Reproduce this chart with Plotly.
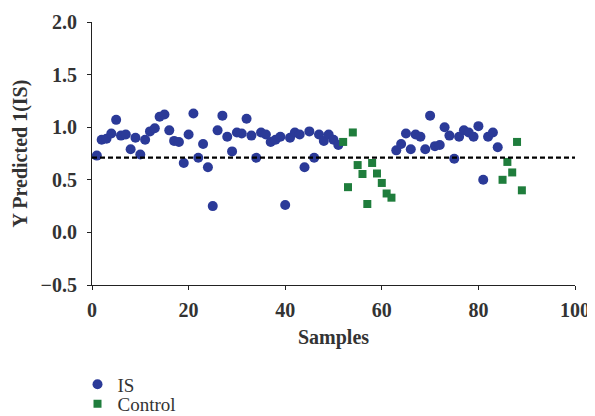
import plotly.graph_objects as go

is_samples = list(range(1, 52)) + list(range(63, 85))
is_values = [0.73, 0.88, 0.89, 0.94, 1.07, 0.92, 0.93, 0.79, 0.90, 0.74,
             0.88, 0.96, 0.99, 1.10, 1.12, 0.97, 0.87, 0.86, 0.66, 0.93,
             1.13, 0.71, 0.84, 0.62, 0.25, 0.97, 1.11, 0.91, 0.77, 0.95,
             0.94, 1.08, 0.92, 0.71, 0.95, 0.93, 0.86, 0.88, 0.91, 0.26,
             0.90, 0.95, 0.93, 0.62, 0.96, 0.71, 0.93, 0.87, 0.93, 0.88,
             0.83,
             0.78, 0.84, 0.94, 0.79, 0.93, 0.91, 0.79, 1.11, 0.82, 0.83,
             1.00, 0.92, 0.70, 0.91, 0.97, 0.95, 0.91, 1.01, 0.50, 0.91,
             0.95, 0.81]
ctrl_samples = list(range(52, 63)) + list(range(85, 90))
ctrl_values = [0.86, 0.43, 0.95, 0.64, 0.555, 0.27, 0.66, 0.56, 0.47, 0.37, 0.33,
               0.50, 0.67, 0.57, 0.86, 0.40]
threshold = 0.71
x_ticks = [0, 20, 40, 60, 80, 100]
y_ticks = [-0.5, 0.0, 0.5, 1.0, 1.5, 2.0]
y_tick_text = ["\u22120.5", "0.0", "0.5", "1.0", "1.5", "2.0"]

serif = "Liberation Serif"
txt = "#333333"

fig = go.Figure()
fig.add_trace(go.Scatter(x=is_samples, y=is_values, mode="markers", name="IS",
                         legend="legend",
                         marker=dict(symbol="circle", size=10, color="#2b3a98")))
fig.add_trace(go.Scatter(x=ctrl_samples, y=ctrl_values, mode="markers", name="Control",
                         legend="legend2",
                         marker=dict(symbol="square", size=8, color="#1f7d3c")))
fig.add_shape(type="line", xref="x", yref="y", x0=0, x1=100, y0=threshold, y1=threshold,
              line=dict(color="black", width=2.2, dash="5px,3px"))

leg_common = dict(xanchor="left", yanchor="middle", bgcolor="rgba(0,0,0,0)",
                  font=dict(family=serif, size=19, color=txt), itemwidth=30)

fig.update_layout(
    width=587, height=408,
    margin=dict(l=84, r=20, t=14, b=131, autoexpand=False),
    paper_bgcolor="white", plot_bgcolor="white",
    font=dict(family=serif, color=txt, size=20),
    showlegend=True,
    legend=dict(x=-0.03, y=-0.378, **leg_common),
    legend2=dict(x=-0.03, y=-0.452, **leg_common),
    xaxis=dict(range=[0, 100], tickvals=x_ticks, showline=True, linecolor="#222222",
               linewidth=1, ticks="outside", ticklen=4, tickcolor="#222222",
               showgrid=False, zeroline=False, automargin=False,
               ticklabelstandoff=3,
               tickfont=dict(family=serif, size=20, color=txt, weight="bold"),
               title=dict(text="<b>Samples</b>", font=dict(family=serif, size=20, color=txt),
                          standoff=9)),
    yaxis=dict(range=[-0.5, 2.0], tickvals=y_ticks, ticktext=y_tick_text, showline=True,
               linecolor="#222222", linewidth=1, ticks="outside", ticklen=4,
               tickcolor="#222222", showgrid=False, zeroline=False, automargin=False,
               ticklabelstandoff=6,
               tickfont=dict(family=serif, size=20, color=txt, weight="bold"),
               title=dict(text="<b>Y Predicted 1(IS)</b>",
                          font=dict(family=serif, size=20, color=txt), standoff=7)),
)

fig.write_html("out.html")
